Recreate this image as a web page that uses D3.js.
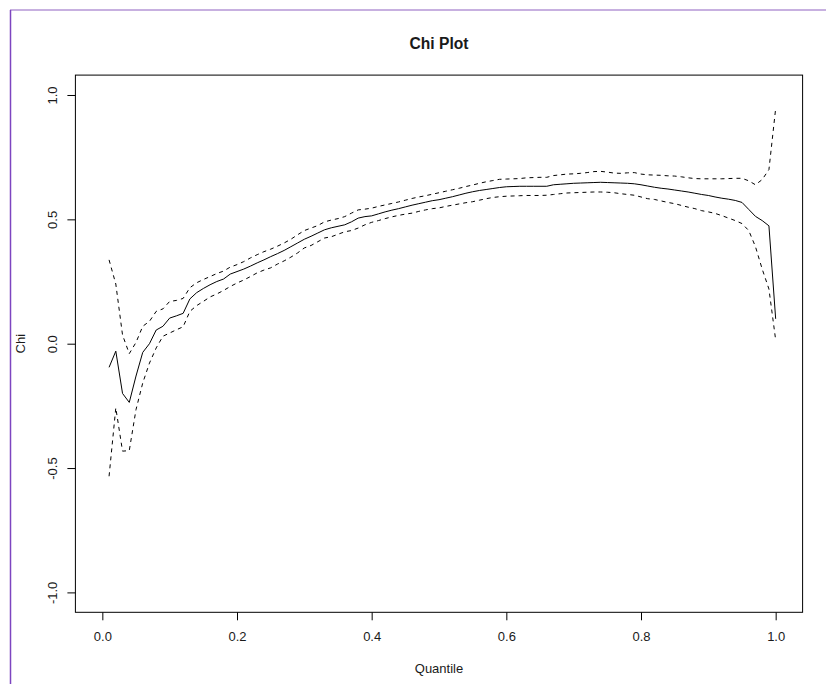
<!DOCTYPE html>
<html>
<head>
<meta charset="utf-8">
<script src="https://cdn.jsdelivr.net/npm/d3@7"></script>
<style>
    body { margin: 0; background: #fff; }
    #chart { width: 826px; height: 684px; }
    text { font-family: "Liberation Sans", Arial, sans-serif; fill: #1a1a1a; }
</style>
</head>
<body>
<div id="chart"></div>
<script>
// Quantile grid and the three chi curves (estimate + dashed bounds)
const quantile = [
    0.01, 0.02, 0.03, 0.04, 0.05, 0.06, 0.07, 0.08, 0.09, 0.10,
    0.11, 0.12, 0.13, 0.14, 0.15, 0.16, 0.17, 0.18, 0.19, 0.20,
    0.21, 0.22, 0.23, 0.24, 0.25, 0.26, 0.27, 0.28, 0.29, 0.30,
    0.31, 0.32, 0.33, 0.34, 0.35, 0.36, 0.37, 0.38, 0.39, 0.40,
    0.41, 0.42, 0.43, 0.44, 0.45, 0.46, 0.47, 0.48, 0.49, 0.50,
    0.51, 0.52, 0.53, 0.54, 0.55, 0.56, 0.57, 0.58, 0.59, 0.60,
    0.61, 0.62, 0.63, 0.64, 0.65, 0.66, 0.67, 0.68, 0.69, 0.70,
    0.71, 0.72, 0.73, 0.74, 0.75, 0.76, 0.77, 0.78, 0.79, 0.80,
    0.81, 0.82, 0.83, 0.84, 0.85, 0.86, 0.87, 0.88, 0.89, 0.90,
    0.91, 0.92, 0.93, 0.94, 0.95, 0.96, 0.97, 0.98, 0.99, 1.00
];

const chi = [
    -0.095, -0.03, -0.20, -0.236, -0.13, -0.035, 0.00, 0.055, 0.07, 0.103,
    0.112, 0.122, 0.18, 0.205, 0.222, 0.237, 0.25, 0.26, 0.28, 0.29,
    0.30, 0.312, 0.325, 0.337, 0.35, 0.362, 0.375, 0.39, 0.405, 0.42,
    0.432, 0.445, 0.458, 0.466, 0.472, 0.478, 0.49, 0.505, 0.511, 0.514,
    0.522, 0.53, 0.537, 0.543, 0.55, 0.557, 0.563, 0.569, 0.575, 0.579,
    0.585, 0.591, 0.598, 0.605, 0.611, 0.616, 0.62, 0.624, 0.628, 0.631,
    0.632, 0.633, 0.633, 0.633, 0.633, 0.633, 0.639, 0.641, 0.643, 0.645,
    0.646, 0.647, 0.648, 0.649, 0.648, 0.647, 0.646, 0.645, 0.643, 0.639,
    0.634, 0.629, 0.625, 0.622, 0.618, 0.614, 0.61, 0.605, 0.60, 0.596,
    0.59, 0.585, 0.581, 0.576, 0.568, 0.54, 0.512, 0.495, 0.474, 0.10
];

const chiUpper = [
    0.337, 0.24, 0.035, -0.04, 0.005, 0.07, 0.09, 0.13, 0.14, 0.17,
    0.174, 0.182, 0.225, 0.245, 0.258, 0.27, 0.282, 0.292, 0.308, 0.318,
    0.33, 0.345, 0.358, 0.37, 0.38, 0.392, 0.405, 0.42, 0.438, 0.455,
    0.465, 0.475, 0.49, 0.497, 0.503, 0.511, 0.525, 0.538, 0.541, 0.545,
    0.552, 0.558, 0.564, 0.57, 0.577, 0.584, 0.59, 0.595, 0.601, 0.607,
    0.613, 0.619, 0.625, 0.632, 0.638, 0.645, 0.651, 0.656, 0.661, 0.662,
    0.663, 0.664, 0.667, 0.668, 0.669, 0.669, 0.676, 0.679, 0.682, 0.683,
    0.685, 0.688, 0.692, 0.693, 0.69, 0.686, 0.685, 0.687, 0.688, 0.682,
    0.679, 0.678, 0.677, 0.675, 0.674, 0.671, 0.667, 0.664, 0.663, 0.663,
    0.663, 0.663, 0.664, 0.665, 0.665, 0.655, 0.639, 0.66, 0.70, 0.946
];

const chiLower = [
    -0.533, -0.258, -0.432, -0.43, -0.265, -0.158, -0.078, -0.017, 0.03, 0.043,
    0.056, 0.068, 0.13, 0.153, 0.17, 0.188, 0.2, 0.214, 0.23, 0.244,
    0.256, 0.27, 0.285, 0.296, 0.305, 0.32, 0.333, 0.348, 0.365, 0.385,
    0.395, 0.41, 0.425, 0.43, 0.44, 0.45, 0.455, 0.465, 0.478, 0.488,
    0.495, 0.503, 0.51, 0.516, 0.521, 0.525, 0.532, 0.538, 0.543, 0.546,
    0.552, 0.557, 0.562, 0.567, 0.571, 0.577, 0.583, 0.588, 0.591, 0.593,
    0.594, 0.595, 0.596, 0.596, 0.596, 0.597, 0.6, 0.603, 0.606, 0.607,
    0.608, 0.609, 0.61, 0.61, 0.609, 0.607, 0.603, 0.6, 0.597, 0.59,
    0.583, 0.58, 0.574, 0.568, 0.563, 0.556, 0.549, 0.543, 0.535, 0.53,
    0.524, 0.515, 0.505, 0.495, 0.483, 0.455, 0.39, 0.30, 0.22, 0.015
];

const xTicks = [0, 0.2, 0.4, 0.6, 0.8, 1.0];
const yTicks = [-1, -0.5, 0, 0.5, 1];

class ChiPlot {
    constructor(selector) {
        this.width = 826;
        this.height = 684;
        this.svg = d3.select(selector).append("svg")
            .attr("width", this.width)
            .attr("height", this.height);

        // R style: limits c(0,1) and c(-1,1), each padded by 4%
        this.x = d3.scaleLinear().domain([-0.04, 1.04]).range([75.4, 802.6]);
        this.y = d3.scaleLinear().domain([-1.08, 1.08]).range([612.3, 75.1]);

        this.frame();
        this.axes();
        this.curves();
        this.labels();
    }

    frame() {
        // purple window edge seen on the screenshot
        this.svg.append("line")
            .attr("x1", 10).attr("x2", this.width)
            .attr("y1", 10).attr("y2", 10)
            .style("stroke", "#b596d6").style("stroke-width", 1.5);
        this.svg.append("line")
            .attr("x1", 10.5).attr("x2", 10.5)
            .attr("y1", 10).attr("y2", this.height)
            .style("stroke", "#7d45c0").style("stroke-width", 1.5);
    }

    axes() {
        const fmt = d => d.toFixed(1);

        const gx = this.svg.append("g")
            .attr("transform", `translate(0,${this.y.range()[0]})`)
            .call(d3.axisBottom(this.x).tickValues(xTicks).tickFormat(fmt)
                .tickSize(8).tickPadding(11));
        gx.select(".domain").remove();

        const gy = this.svg.append("g")
            .attr("transform", `translate(${this.x.range()[0]},0)`)
            .call(d3.axisLeft(this.y).tickValues(yTicks).tickFormat(fmt).tickSize(8));
        gy.select(".domain").remove();
        gy.selectAll("text")
            .attr("x", 0).attr("dy", null)
            .attr("text-anchor", "middle")
            .attr("transform", "translate(-18.7,0) rotate(-90)");

        this.svg.selectAll(".tick line").style("stroke", "#000");
        this.svg.selectAll(".tick text")
            .style("font-size", "13px")
            .style("font-family", "'Liberation Sans', Arial, sans-serif")
            .style("fill", "#1a1a1a");

        // plot box
        const [x0, x1] = this.x.range();
        const [y0, y1] = this.y.range();
        this.svg.append("rect")
            .attr("x", x0).attr("y", y1)
            .attr("width", x1 - x0).attr("height", y0 - y1)
            .style("fill", "none").style("stroke", "#000").style("stroke-width", 1);
    }

    curves() {
        const series = [
            { values: chi, dash: null },
            { values: chiUpper, dash: "4,4" },
            { values: chiLower, dash: "4,4" }
        ];
        const line = d3.line()
            .x(d => this.x(d[0]))
            .y(d => this.y(d[1]));

        this.svg.append("g")
            .selectAll("path")
            .data(series)
            .join("path")
            .attr("d", s => line(quantile.map((q, i) => [q, s.values[i]])))
            .style("fill", "none")
            .style("stroke", "#000")
            .style("stroke-width", 1)
            .style("stroke-dasharray", s => s.dash);
    }

    labels() {
        const cx = (this.x.range()[0] + this.x.range()[1]) / 2;
        this.svg.append("text")
            .attr("x", cx).attr("y", 49)
            .attr("text-anchor", "middle")
            .style("font-size", "15.6px")
            .style("font-weight", "bold")
            .text("Chi Plot");

        this.svg.append("text")
            .attr("x", cx).attr("y", 672.5)
            .attr("text-anchor", "middle")
            .style("font-size", "13px")
            .text("Quantile");

        const cy = (this.y.range()[0] + this.y.range()[1]) / 2;
        this.svg.append("text")
            .attr("transform", `translate(24.6,${cy}) rotate(-90)`)
            .attr("text-anchor", "middle")
            .style("font-size", "13px")
            .text("Chi");
    }
}

document.addEventListener("DOMContentLoaded", () => {
    new ChiPlot("#chart");
});
</script>
</body>
</html>
